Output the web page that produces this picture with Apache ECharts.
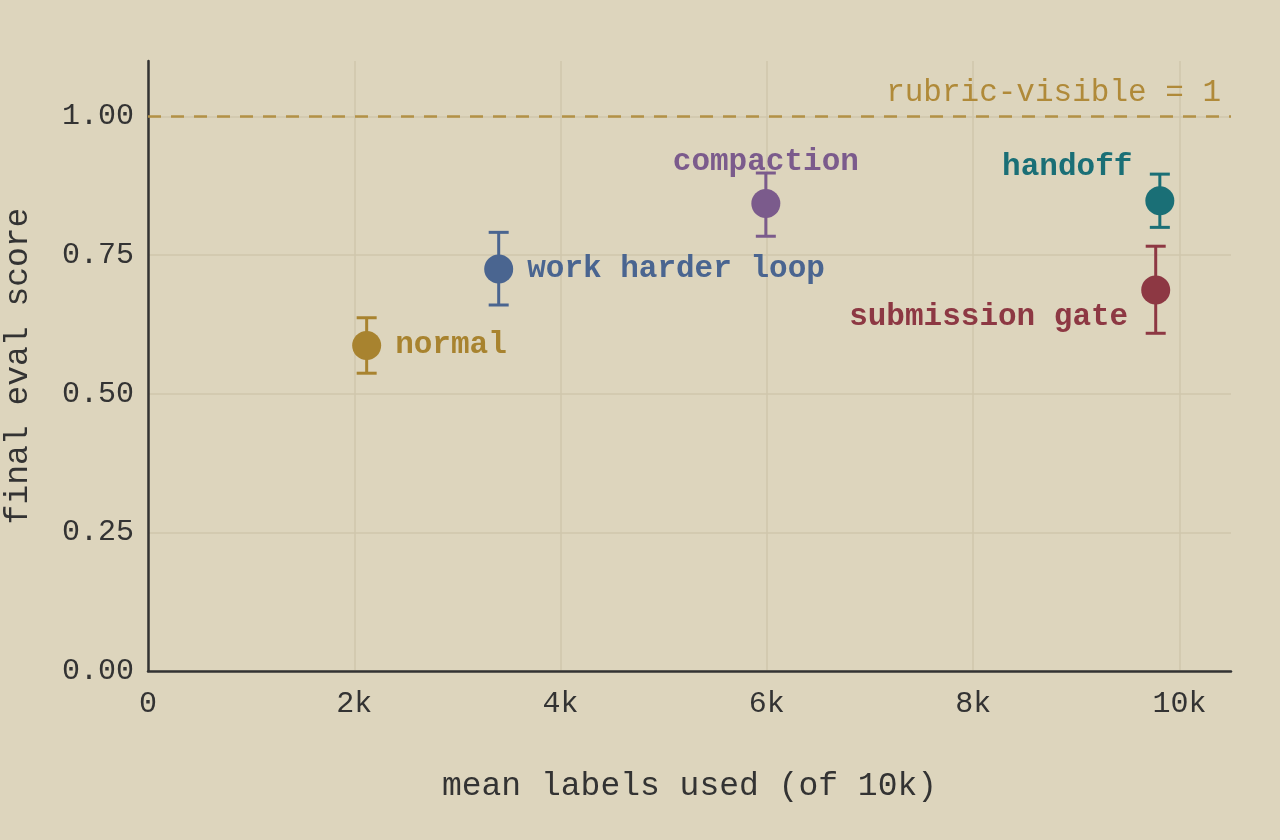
<!DOCTYPE html>
<html>
<head>
<meta charset="utf-8">
<script src="https://cdn.jsdelivr.net/npm/echarts@6/dist/echarts.min.js"></script>
<style>
html,body{margin:0;padding:0;background:#ddd5bd;}
#chart{width:1280px;height:840px;}
</style>
</head>
<body>
<div id="chart"></div>
<script>
// ---- data ----
const names  = ['normal', 'work harder loop', 'compaction', 'handoff', 'submission gate'];
const labelsUsed = [2120, 3400, 5990, 9810, 9770];
const scores = [0.587, 0.725, 0.843, 0.848, 0.687];
const errLow  = [0.537, 0.660, 0.784, 0.800, 0.609];
const errHigh = [0.637, 0.791, 0.898, 0.896, 0.766];
const xTicks = [0, 2000, 4000, 6000, 8000, 10000];
const yTicks = [0, 0.25, 0.5, 0.75, 1.0];
const refValue = 1;
const refLabel = 'rubric-visible = 1';

// ---- styles ----
const palette = ['#a8832f', '#4a6590', '#7b5b8c', '#1a6f76', '#8d3843'];
const FONT = '"Courier New", "Liberation Mono", monospace';
const labelPlace = {
  'normal':           {position: 'right', distance: 14, offset: [0, 0]},
  'work harder loop': {position: 'right', distance: 14, offset: [0, 0]},
  'compaction':       {position: 'top',   distance: 11, offset: [0, 0]},
  'handoff':          {position: 'left',  distance: 13, offset: [0, -34]},
  'submission gate':  {position: 'left',  distance: 13, offset: [0, 27]}
};

const scatterData = names.map((n, i) => ({
  name: n,
  value: [labelsUsed[i], scores[i]],
  itemStyle: {color: palette[i], opacity: 1},
  label: Object.assign({
    show: true, formatter: n, color: palette[i], opacity: 1,
    fontFamily: FONT, fontWeight: 'bold', fontSize: 31
  }, labelPlace[n])
}));
const errData = names.map((n, i) => [labelsUsed[i], errLow[i], errHigh[i], i]);

const chart = echarts.init(document.getElementById('chart'));
chart.setOption({
  backgroundColor: '#ddd5bd',
  animation: false,
  textStyle: {fontFamily: FONT},
  grid: {left: 148, right: 49, top: 61, bottom: 169, containLabel: false, outerBoundsMode: 'none'},
  xAxis: {
    type: 'value', min: 0, max: 10500, interval: 2000,
    name: 'mean labels used (of 10k)', nameLocation: 'middle', nameGap: 99,
    nameTextStyle: {fontFamily: FONT, fontSize: 33, color: '#333'},
    axisLine: {show: true, onZero: false, lineStyle: {color: '#333', width: 2.5}},
    axisTick: {show: false},
    axisLabel: {
      fontFamily: FONT, fontSize: 30, color: '#333', margin: 18, showMaxLabel: false,
      formatter: v => xTicks.indexOf(v) < 0 ? '' : (v === 0 ? '0' : (v / 1000) + 'k')
    },
    splitLine: {show: true, showMaxLine: false, lineStyle: {color: '#cfc6ac', width: 1.5}}
  },
  yAxis: {
    type: 'value', min: 0, max: 1.1, interval: 0.25,
    name: 'final eval score', nameLocation: 'middle', nameGap: 113, nameRotate: 90,
    nameTextStyle: {fontFamily: FONT, fontSize: 33, color: '#333'},
    axisLine: {show: true, onZero: false, lineStyle: {color: '#333', width: 2.5}},
    axisTick: {show: false},
    axisLabel: {
      fontFamily: FONT, fontSize: 30, color: '#333', margin: 14, showMaxLabel: false,
      formatter: v => yTicks.some(t => Math.abs(t - v) < 1e-9) ? v.toFixed(2) : ''
    },
    splitLine: {show: true, showMaxLine: false, lineStyle: {color: '#cfc6ac', width: 1.5}}
  },
  series: [
    {
      type: 'custom',
      z: 2,
      silent: true,
      data: errData,
      renderItem: function (params, api) {
        const x = api.value(0), lo = api.value(1), hi = api.value(2), idx = api.value(3);
        const pLo = api.coord([x, lo]);
        const pHi = api.coord([x, hi]);
        const half = 10;
        const style = {stroke: palette[idx], lineWidth: 3};
        return {
          type: 'group',
          children: [
            {type: 'line', shape: {x1: pLo[0], y1: pLo[1], x2: pHi[0], y2: pHi[1]}, style: style},
            {type: 'line', shape: {x1: pLo[0] - half, y1: pLo[1], x2: pLo[0] + half, y2: pLo[1]}, style: style},
            {type: 'line', shape: {x1: pHi[0] - half, y1: pHi[1], x2: pHi[0] + half, y2: pHi[1]}, style: style}
          ]
        };
      }
    },
    {
      type: 'scatter',
      z: 3,
      symbolSize: 29,
      silent: true,
      itemStyle: {opacity: 1},
      data: scatterData,
      markLine: {
        silent: true,
        symbol: 'none',
        lineStyle: {color: '#b39146', width: 2.5, type: [13, 10], opacity: 1},
        label: {
          show: true, position: 'insideEndTop', formatter: refLabel,
          color: '#b08a39', fontFamily: FONT, fontSize: 31, distance: [10, 8]
        },
        data: [{yAxis: refValue}]
      }
    }
  ]
});
</script>
</body>
</html>
